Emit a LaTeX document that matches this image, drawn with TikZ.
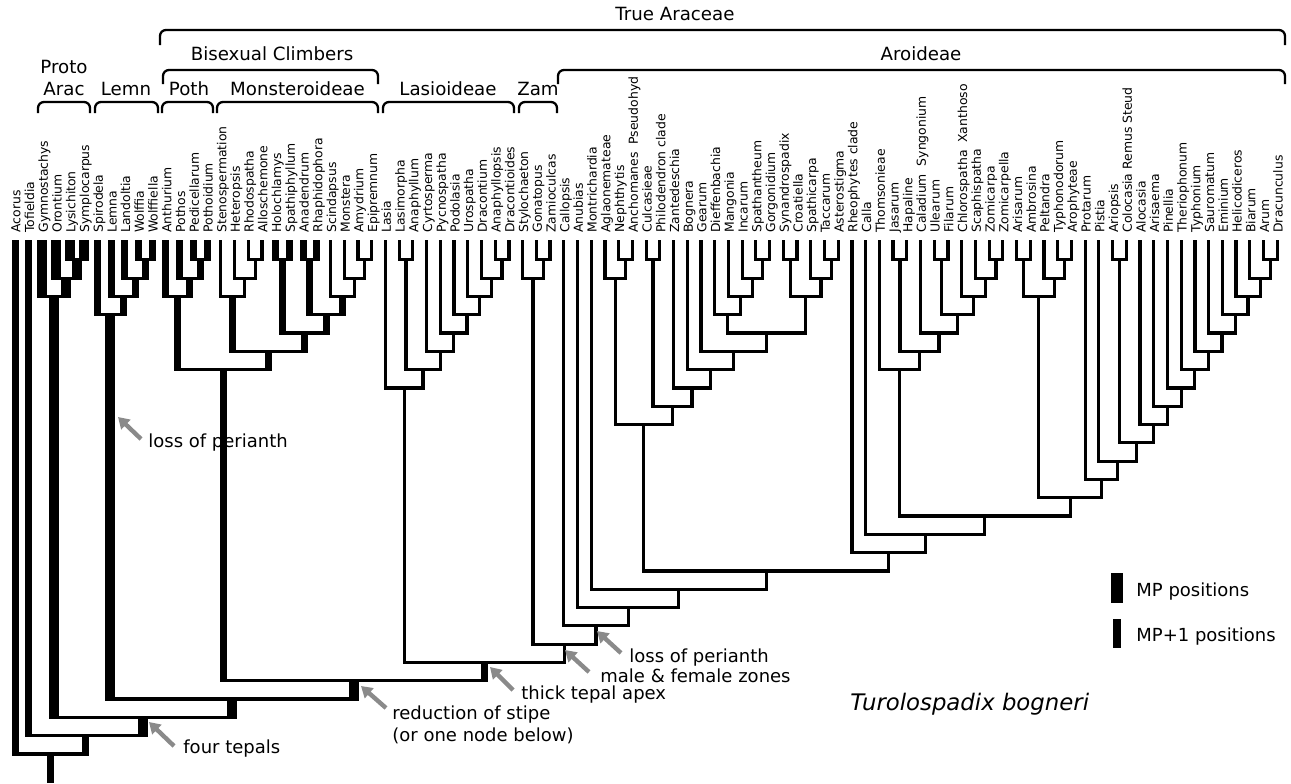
\documentclass[tikz,border=0pt]{standalone}
\usepackage{fontspec}
\setmainfont{DejaVu Sans}
\usetikzlibrary{calc,arrows.meta}
\definecolor{arrowgray}{RGB}{138,138,138}

\tikzset{
  br/.style={line width=1.6pt},
  mpone/.style={line width=3.5pt},
  mp/.style={line width=5pt},
  bar/.style={line width=1.6pt, line cap=rect},
  taxon/.style={rotate=90, anchor=mid west, inner sep=0pt, font=\fontsize{6.2}{7}\selectfont},
  cladelab/.style={anchor=base, inner sep=0pt, font=\fontsize{9.1}{11}\selectfont},
  bracebr/.style={line width=1.15pt, rounded corners=3pt},
  note/.style={anchor=base west, inner sep=0pt, align=left, font=\fontsize{9}{10.6}\selectfont},
  pointer/.style={draw=arrowgray, line width=2.2pt, -{Triangle[length=5.5pt,width=6.5pt]}},
  keybar/.style={fill, inner sep=0pt},
}

\newcommand{\joinbr}[6]{%
  \coordinate (m) at ($(#2)!0.5!(#3)$);
  \coordinate (lv) at (0,{241.5+18.3*#4});
  \coordinate (#1) at (m |- lv);
  \draw[#5] (#2) -- ($(#2 |- lv)+(0,1.6)$);
  \draw[#6] (#3) -- ($(#3 |- lv)+(0,1.6)$);
  \draw[bar] (#2 |- lv) -- (#3 |- lv);
}
\newcommand{\cladebrace}[4]{%
  \draw[bracebr] (#1,#4) -- (#1,#3) -- (#2,#3) -- (#2,#4);
}

\begin{document}
\begin{tikzpicture}[x=0.5pt, y=-0.5pt]
  \useasboundingbox (0,0) rectangle (1291,783);

  \foreach \tx [count=\i] in {Acorus,Tofieldia,Gymnostachys,Orontium,Lysichiton,Symplocarpus,
    Spirodela,Lemna,Landoltia,Wolffia,Wolffiella,Anthurium,Pothos,Pedicellarum,Pothoidium,
    Stenospermation,Heteropsis,Rhodospatha,Alloschemone,Holochlamys,Spathiphyllum,Anadendrum,
    Rhaphidophora,Scindapsus,Monstera,Amydrium,Epipremnum,Lasia,Lasimorpha,Anaphyllum,
    Cyrtosperma,Pycnospatha,Podolasia,Urospatha,Dracontium,Anaphyllopsis,Dracontioides,
    Stylochaeton,Gonatopus,Zamioculcas,Callopsis,Anubias,Montrichardia,Aglaonemateae,
    Nephthytis,Anchomanes\ \ Pseudohyd,Culcasieae,Philodendron clade,Zantedeschia,Bognera,
    Gearum,Dieffenbachia,Mangonia,Incarum,Spathantheum,Gorgonidium,Synandrospadix,Croatiella,
    Spathicarpa,Taccarum,Asterostigma,Rheophytes clade,Calla,Thomsonieae,Jasarum,Hapaline,
    Caladium\ \ Syngonium,Ulearum,Filarum,Chlorospatha\ \ Xanthoso,Scaphispatha,Zomicarpa,
    Zomicarpella,Arisarum,Ambrosina,Peltandra,Typhonodorum,Arophyteae,Protarum,Pistia,Ariopsis,
    Colocasia Remus Steud,Alocasia,Arisaema,Pinellia,Theriophonum,Typhonium,Sauromatum,
    Eminium,Helicodiceros,Biarum,Arum,Dracunculus}
  {
    \coordinate (t\i) at ({15+13.72*(\i-1)},240);
    \node[taxon] (lab\i) at ({15+13.72*(\i-1)},233) {\tx};
  }

  \joinbr{lysym}{t5}{t6}{1}{mp}{mp}
  \joinbr{oron}{t4}{lysym}{2}{mp}{mp}
  \joinbr{proto}{t3}{oron}{3}{mp}{mp}
  \joinbr{wolf}{t10}{t11}{1}{mpone}{mpone}
  \joinbr{lando}{t9}{wolf}{2}{mpone}{mpone}
  \joinbr{lemna}{t8}{lando}{3}{mpone}{mpone}
  \joinbr{lemn}{t7}{lemna}{4}{mpone}{mpone}
  \joinbr{pedi}{t14}{t15}{1}{mpone}{mpone}
  \joinbr{pothos}{t13}{pedi}{2}{mpone}{mpone}
  \joinbr{poth}{t12}{pothos}{3}{mpone}{mpone}
  \joinbr{rhodo}{t18}{t19}{1}{br}{br}
  \joinbr{hetero}{t17}{rhodo}{2}{br}{br}
  \joinbr{steno}{t16}{hetero}{3}{br}{br}
  \joinbr{holo}{t20}{t21}{1}{mpone}{mpone}
  \joinbr{anad}{t22}{t23}{1}{mpone}{mpone}
  \joinbr{amyd}{t26}{t27}{1}{br}{br}
  \joinbr{monst}{t25}{amyd}{2}{br}{br}
  \joinbr{scind}{t24}{monst}{3}{br}{br}
  \joinbr{rhaph}{anad}{scind}{4}{mpone}{mpone}
  \joinbr{spath}{holo}{rhaph}{5}{mpone}{mpone}
  \joinbr{monstera}{steno}{spath}{6}{mpone}{mpone}
  \joinbr{climb}{poth}{monstera}{7}{mpone}{mpone}

  \joinbr{anaph}{t29}{t30}{1}{br}{br}
  \joinbr{dracs}{t36}{t37}{1}{br}{br}
  \joinbr{dracon}{t35}{dracs}{2}{br}{br}
  \joinbr{uros}{t34}{dracon}{3}{br}{br}
  \joinbr{podo}{t33}{uros}{4}{br}{br}
  \joinbr{pycno}{t32}{podo}{5}{br}{br}
  \joinbr{cyrto}{t31}{pycno}{6}{br}{br}
  \joinbr{lasim}{anaph}{cyrto}{7}{br}{br}
  \joinbr{lasio}{t28}{lasim}{8}{br}{br}
  \joinbr{gona}{t39}{t40}{1}{br}{br}
  \joinbr{zam}{t38}{gona}{2}{br}{br}

  \joinbr{nephth}{t45}{t46}{1}{br}{br}
  \joinbr{aglao}{t44}{nephth}{2}{br}{br}
  \joinbr{culc}{t47}{t48}{1}{br}{br}
  \joinbr{spathan}{t55}{t56}{1}{br}{br}
  \joinbr{incar}{t54}{spathan}{2}{br}{br}
  \joinbr{mango}{t53}{incar}{3}{br}{br}
  \joinbr{dieff}{t52}{mango}{4}{br}{br}
  \joinbr{synan}{t57}{t58}{1}{br}{br}
  \joinbr{tacca}{t60}{t61}{1}{br}{br}
  \joinbr{spathic}{t59}{tacca}{2}{br}{br}
  \joinbr{spathi}{synan}{spathic}{3}{br}{br}
  \joinbr{gearum}{dieff}{spathi}{5}{br}{br}
  \joinbr{gear}{t51}{gearum}{6}{br}{br}
  \joinbr{bogn}{t50}{gear}{7}{br}{br}
  \joinbr{zant}{t49}{bogn}{8}{br}{br}
  \joinbr{philo}{culc}{zant}{9}{br}{br}
  \joinbr{aglo}{aglao}{philo}{10}{br}{br}
  \joinbr{jasa}{t65}{t66}{1}{br}{br}
  \joinbr{ulea}{t68}{t69}{1}{br}{br}
  \joinbr{zomi}{t72}{t73}{1}{br}{br}
  \joinbr{scaph}{t71}{zomi}{2}{br}{br}
  \joinbr{chloro}{t70}{scaph}{3}{br}{br}
  \joinbr{filar}{ulea}{chloro}{4}{br}{br}
  \joinbr{calad}{t67}{filar}{5}{br}{br}
  \joinbr{hapa}{jasa}{calad}{6}{br}{br}
  \joinbr{thoms}{t64}{hapa}{7}{br}{br}
  \joinbr{arisa}{t74}{t75}{1}{br}{br}
  \joinbr{typho}{t77}{t78}{1}{br}{br}
  \joinbr{pelt}{t76}{typho}{2}{br}{br}
  \joinbr{ambro}{arisa}{pelt}{3}{br}{br}
  \joinbr{arum}{t92}{t93}{1}{br}{br}
  \joinbr{biar}{t91}{arum}{2}{br}{br}
  \joinbr{helic}{t90}{biar}{3}{br}{br}
  \joinbr{emin}{t89}{helic}{4}{br}{br}
  \joinbr{sauro}{t88}{emin}{5}{br}{br}
  \joinbr{typhon}{t87}{sauro}{6}{br}{br}
  \joinbr{therio}{t86}{typhon}{7}{br}{br}
  \joinbr{pinel}{t85}{therio}{8}{br}{br}
  \joinbr{arisae}{t84}{pinel}{9}{br}{br}
  \joinbr{aloc}{t83}{arisae}{10}{br}{br}
  \joinbr{ariop}{t81}{t82}{1}{br}{br}
  \joinbr{coloc}{ariop}{aloc}{11}{br}{br}
  \joinbr{pistia}{t80}{coloc}{12}{br}{br}
  \joinbr{prota}{t79}{pistia}{13}{br}{br}
  \joinbr{aroid}{ambro}{prota}{14}{br}{br}
  \joinbr{thom}{thoms}{aroid}{15}{br}{br}
  \joinbr{calla}{t63}{thom}{16}{br}{br}
  \joinbr{rheo}{t62}{calla}{17}{br}{br}
  \joinbr{bigc}{aglo}{rheo}{18}{br}{br}
  \joinbr{montr}{t43}{bigc}{19}{br}{br}
  \joinbr{anub}{t42}{montr}{20}{br}{br}
  \joinbr{callo}{t41}{anub}{21}{br}{br}

  \joinbr{n22}{zam}{callo}{22}{br}{br}
  \joinbr{n23}{lasio}{n22}{23}{br}{br}
  \joinbr{n24}{climb}{n23}{24}{mpone}{mpone}
  \joinbr{n25}{lemn}{n24}{25}{mp}{mp}
  \joinbr{n26}{proto}{n25}{26}{mp}{mp}
  \joinbr{n27}{t2}{n26}{27}{mpone}{mp}
  \joinbr{root}{t1}{n27}{28}{mpone}{mpone}
  \coordinate (base) at (root |- 0,783);
  \draw[mpone] (root) -- (base);

  \node[cladelab] (truelab) at (675,20) {True Araceae};
  \node[cladelab] (bisexlab) at (272,60) {Bisexual Climbers};
  \node[cladelab] (aroidlab) at (921,60) {Aroideae};
  \node[cladelab] (protolab) at (64,73) {Proto};
  \node[cladelab] (araclab) at (64,95) {Arac};
  \node[cladelab] (lemnlab) at (126,95) {Lemn};
  \node[cladelab] (pothlab) at (189,95) {Poth};
  \node[cladelab] (monlab) at (297.5,95) {Monsteroideae};
  \node[cladelab] (laslab) at (448,95) {Lasioideae};
  \node[cladelab] (zamlab) at (538,95) {Zam};
  \cladebrace{160}{1285}{30}{45}
  \cladebrace{163}{378}{70}{84}
  \cladebrace{558}{1285}{70}{84}
  \cladebrace{38}{90}{102}{113}
  \cladebrace{95}{158}{102}{113}
  \cladebrace{162}{213}{102}{113}
  \cladebrace{217}{378}{102}{113}
  \cladebrace{383}{514}{102}{113}
  \cladebrace{519}{557}{102}{113}

  \node[note] (perlem) at (148,447) {loss of perianth};
  \node[note] (tepals) at (183,753) {four tepals};
  \node[note] (stipe) at (392,741) {reduction of stipe\\(or one node below)};
  \node[note] (apex) at (521,699) {thick tepal apex};
  \node[note] (zones) at (600,682) {male \& female zones};
  \node[note] (peraro) at (629,662) {loss of perianth};
  \coordinate (a1s) at (141,439); \coordinate (a1e) at (118,417);
  \coordinate (a2s) at (174,746); \coordinate (a2e) at (149,722);
  \coordinate (a3s) at (386,708); \coordinate (a3e) at (361,686);
  \coordinate (a4s) at (513,690); \coordinate (a4e) at (490,667);
  \coordinate (a5s) at (589,672); \coordinate (a5e) at (565,650);
  \coordinate (a6s) at (621,653); \coordinate (a6e) at (597,631);
  \draw[pointer] (a1s) -- (a1e);
  \draw[pointer] (a2s) -- (a2e);
  \draw[pointer] (a3s) -- (a3e);
  \draw[pointer] (a4s) -- (a4e);
  \draw[pointer] (a5s) -- (a5e);
  \draw[pointer] (a6s) -- (a6e);

  \node[keybar, minimum width=6pt, minimum height=15pt] (mpkey) at (1117,588) {};
  \node[note] (mptext) at (1136,596) {MP positions};
  \node[keybar, minimum width=4pt, minimum height=14.5pt] (mponekey) at (1117,633.5) {};
  \node[note] (mponetext) at (1136,641.7) {MP+1 positions};
  \node[anchor=base west, inner sep=0pt, font=\fontsize{11.4}{13}\selectfont\itshape] (species) at (850,710) {Turolospadix bogneri};
\end{tikzpicture}
\end{document}
